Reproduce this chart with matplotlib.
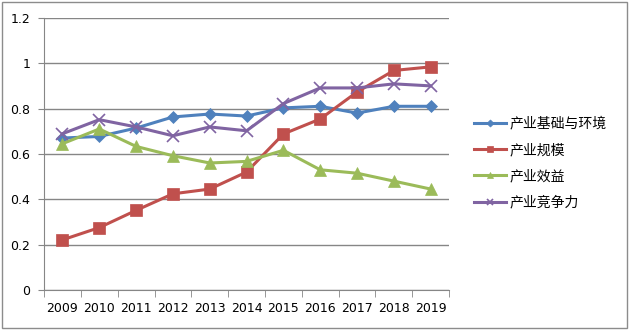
import matplotlib
matplotlib.use('Agg')
import matplotlib.pyplot as plt
from matplotlib.patches import Rectangle

plt.rcParams['font.family'] = ['DejaVu Sans', 'Noto Sans CJK SC']

years = ['2009', '2010', '2011', '2012', '2013', '2014', '2015', '2016', '2017', '2018', '2019']
names = ['产业基础与环境', '产业规模', '产业效益', '产业竞争力']
base_env = [0.670, 0.677, 0.714, 0.763, 0.776, 0.767, 0.803, 0.810, 0.780, 0.810, 0.810]
scale = [0.221, 0.275, 0.351, 0.424, 0.445, 0.520, 0.688, 0.754, 0.873, 0.968, 0.984]
benefit = [0.645, 0.710, 0.633, 0.592, 0.560, 0.567, 0.616, 0.530, 0.515, 0.480, 0.445]
compete = [0.689, 0.751, 0.719, 0.680, 0.719, 0.702, 0.822, 0.891, 0.891, 0.909, 0.900]

series = [base_env, scale, benefit, compete]
colors = ['#4F81BD', '#C0504D', '#9BBB59', '#8064A2']
markers = ['D', 's', '^', 'x']
msizes = [6, 8, 8, 8]

fig = plt.figure(figsize=(6.29, 3.31), dpi=100)
fig.patches.append(Rectangle((0.003, 0.008), 0.994, 0.985, transform=fig.transFigure,
                             fill=False, edgecolor='#8c8c8c', linewidth=1))
ax = fig.add_axes([0.070, 0.124, 0.644, 0.822])

x = list(range(len(years)))
for vals, name, c, m, ms in zip(series, names, colors, markers, msizes):
    ax.plot(x, vals, color=c, marker=m, markersize=ms, linewidth=2.2, label=name,
            markeredgewidth=1.2 if m == 'x' else 0.5, markeredgecolor=c)

ax.set_ylim(0, 1.2)
ax.set_yticks([0, 0.2, 0.4, 0.6, 0.8, 1.0, 1.2])
ax.set_yticklabels(['0', '0.2', '0.4', '0.6', '0.8', '1', '1.2'], fontsize=9)
ax.set_xlim(-0.5, len(years) - 0.5)
ax.set_xticks(x)
ax.set_xticklabels(years, fontsize=9)
ax.tick_params(axis='x', length=0, pad=9)
ax.set_xticks([i - 0.5 for i in range(len(years) + 1)], minor=True)
ax.tick_params(axis='x', which='minor', length=5, color='#868686')
ax.tick_params(axis='y', length=4, color='#868686', pad=6)
ax.grid(axis='y', color='#868686', linewidth=1)
ax.set_axisbelow(True)
for s in ['top', 'right']:
    ax.spines[s].set_visible(False)
for s in ['left', 'bottom']:
    ax.spines[s].set_color('#868686')

fig.legend(loc='upper left', bbox_to_anchor=(0.733, 0.685), frameon=False,
           prop={'family': ['Noto Sans CJK SC'], 'size': 10}, handlelength=2.3,
           labelspacing=0.88, handletextpad=0.3, markerscale=0.6)

fig.savefig('out.png', dpi=100)
